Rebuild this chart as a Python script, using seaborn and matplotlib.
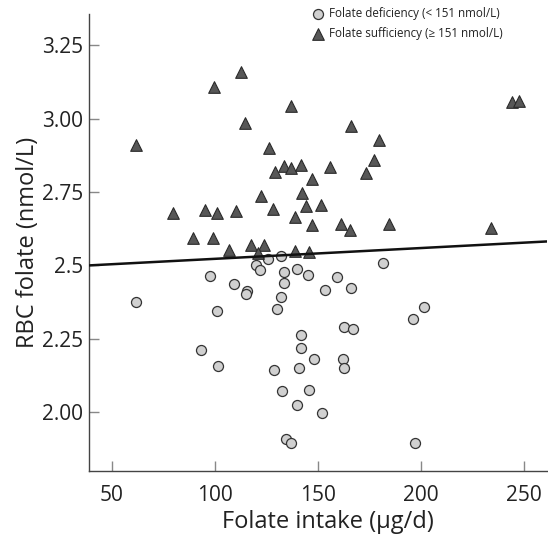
import numpy as np
import pandas as pd
import matplotlib
matplotlib.use("Agg")
import matplotlib.pyplot as plt
import seaborn as sns

# Folate deficiency group (circles)
def_intake = [61.6, 97.7, 100.9, 93.3, 101.7, 126.0, 132.1, 120.0, 122.1, 133.6,
              139.7, 145.4, 159.3, 109.3, 115.5, 115.1, 133.6, 153.6, 165.9, 132.0,
              130.3, 162.8, 166.9, 142.0, 142.0, 148.0, 162.2, 162.7, 128.9, 141.0,
              132.8, 145.7, 139.9, 151.9, 134.7, 137.0, 197.0, 181.8, 201.6, 196.0]
def_rbc = [2.376, 2.465, 2.345, 2.211, 2.159, 2.522, 2.533, 2.500, 2.486, 2.479,
           2.488, 2.468, 2.461, 2.436, 2.414, 2.401, 2.440, 2.417, 2.424, 2.391,
           2.351, 2.290, 2.284, 2.264, 2.220, 2.181, 2.183, 2.150, 2.145, 2.151,
           2.074, 2.077, 2.024, 1.998, 1.908, 1.894, 1.895, 2.508, 2.360, 2.317]

# Folate sufficiency group (triangles)
suf_intake = [61.6, 99.7, 79.9, 95.3, 101.2, 110.1, 89.6, 99.3, 112.9, 137.1,
              114.5, 165.9, 179.8, 126.2, 177.4, 173.2, 133.4, 136.8, 141.7, 129.1,
              156.0, 147.0, 142.5, 122.4, 144.3, 151.7, 128.2, 138.8, 147.0, 161.2,
              165.7, 244.5, 247.7, 184.7, 234.0, 106.9, 117.4, 124.0, 121.1, 138.9,
              145.6]
suf_rbc = [2.910, 3.107, 2.678, 2.687, 2.677, 2.686, 2.595, 2.595, 3.160, 3.042,
           2.985, 2.976, 2.928, 2.900, 2.860, 2.815, 2.837, 2.832, 2.841, 2.818,
           2.835, 2.795, 2.747, 2.735, 2.703, 2.704, 2.692, 2.665, 2.636, 2.640,
           2.622, 3.056, 3.059, 2.642, 2.629, 2.551, 2.570, 2.570, 2.542, 2.550,
           2.545]

# fitted line
reg_intercept = 2.4857
reg_slope = 0.000367

y_ticks = [2.00, 2.25, 2.5, 2.75, 3.00, 3.25]
y_tick_labels = ["2.00", "2.25", "2.5", "2.75", "3.00", "3.25"]
x_ticks = [50, 100, 150, 200, 250]

label_def = "Folate deficiency (< 151 nmol/L)"
label_suf = "Folate sufficiency (\u2265 151 nmol/L)"

df_def = pd.DataFrame({"intake": def_intake, "rbc": def_rbc})
df_suf = pd.DataFrame({"intake": suf_intake, "rbc": suf_rbc})

sns.set_style("ticks")
plt.rcParams["font.family"] = ["Open Sans", "DejaVu Sans"]
text_color = "#222222"

fig = plt.figure(figsize=(5.48, 5.44), dpi=100)
ax = fig.add_axes([0.163, 0.1347, 0.835, 0.8396])

sns.scatterplot(data=df_def, x="intake", y="rbc", ax=ax, marker="o", s=52,
                color="#d0d0d0", edgecolor="#333333", linewidth=0.9,
                label=label_def, zorder=3)
sns.scatterplot(data=df_suf, x="intake", y="rbc", ax=ax, marker="^", s=70,
                color="#575757", edgecolor="#2a2a2a", linewidth=0.8,
                label=label_suf, zorder=3)

xlim = (39.1, 261.2)
line_x = np.array(xlim)
ax.plot(line_x, reg_intercept + reg_slope * line_x, color="#111111", lw=1.8, zorder=4)

ax.set_xlim(*xlim)
ax.set_ylim(1.801, 3.356)
ax.set_xticks(x_ticks)
ax.set_yticks(y_ticks)
ax.set_yticklabels(y_tick_labels)

for side in ["top", "right"]:
    ax.spines[side].set_visible(False)
for side in ["left", "bottom"]:
    ax.spines[side].set_color("#444444")
    ax.spines[side].set_linewidth(1.0)

ax.tick_params(axis="both", direction="in", length=7, width=1.0, color="#888888",
               labelsize=15, labelcolor=text_color)
ax.tick_params(axis="x", pad=10)
ax.tick_params(axis="y", pad=4.5)

ax.set_xlabel("Folate intake (\u03bcg/d)", fontsize=17, color=text_color)
ax.set_ylabel("RBC folate (nmol/L)", fontsize=17, color=text_color, labelpad=1)
ax.xaxis.set_label_coords(0.522, -0.113, transform=ax.transAxes)
ax.xaxis.label.set_va("center")

leg = ax.legend(loc="upper left", bbox_to_anchor=(0.553, 0.997),
                bbox_transform=fig.transFigure, frameon=False, fontsize=8.4,
                handletextpad=0.25, labelspacing=0.6, borderpad=0,
                handlelength=1.5)
for t in leg.get_texts():
    t.set_color(text_color)

fig.savefig("out.png", dpi=100)
